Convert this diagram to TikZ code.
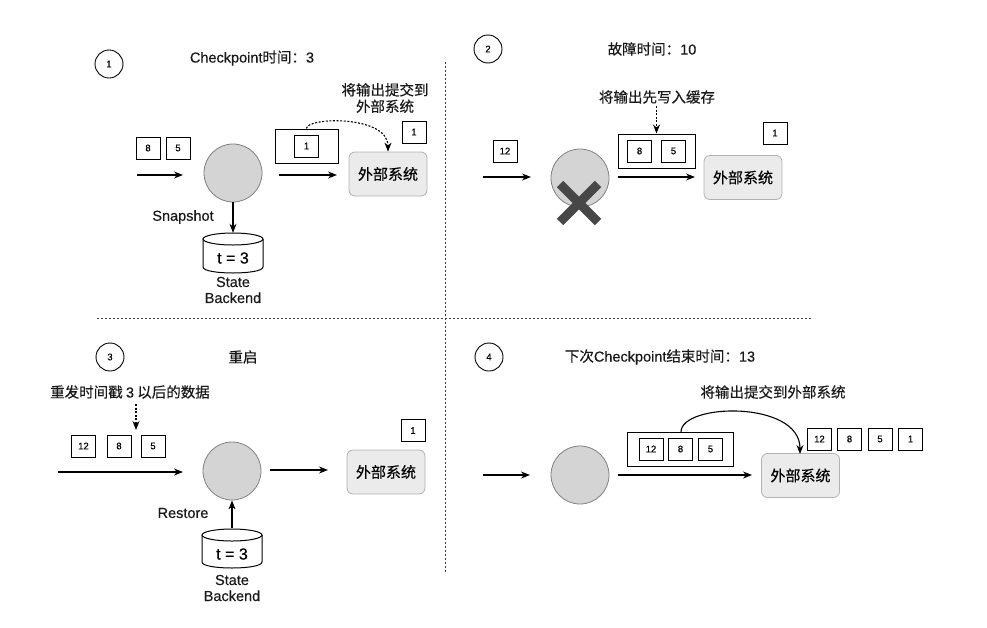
\documentclass[tikz,border=0pt]{standalone}
\usepackage{fontspec}
\setmainfont{Liberation Sans}[FakeBold=0.4]
\newfontfamily\cjk{Noto Sans CJK SC}[FakeBold=0.4]
\usetikzlibrary{arrows.meta}
\newcommand\mycyl[3]{%
  \draw[line width=1pt,fill=white] (#1-30,#2+6) -- (#1-30,#3-6) .. controls (#1-30,#3+2) and (#1+30,#3+2) .. (#1+30,#3-6) -- (#1+30,#2+6);
  \draw[line width=1pt,fill=white] (#1,#2+6) ellipse [x radius=30, y radius=6];
}
\begin{document}
\begin{tikzpicture}[x=1pt,y=-1pt,
  numbox/.style={draw, line width=1pt, fill=white, minimum width=24pt, minimum height=22pt, inner sep=0pt, font=\fontsize{9.5}{10}\selectfont},
  bufbox/.style={draw, line width=1pt, inner sep=0pt},
  opnode/.style={circle, draw=black!50, fill=black!17, line width=0.8pt, minimum size=58pt, inner sep=0pt},
  extbox/.style={draw=black!30, fill=black!8, rounded corners=6pt, line width=0.8pt, minimum width=78pt, minimum height=44pt, inner sep=0pt, font=\cjk\fontsize{15}{17}\selectfont},
  arr/.style={-{Stealth[length=9pt,width=7pt]}, line width=1.1pt},
  darr/.style={arr, dash pattern=on 2pt off 1.6pt},
  divider/.style={line width=1pt, black!75, dash pattern=on 2pt off 2pt},
  lbl/.style={inner sep=0pt, text=black!90, font=\fontsize{14.5}{16}\selectfont},
  cjklbl/.style={lbl, font=\cjk\fontsize{14.5}{16.5}\selectfont, align=center},
  numc/.style={circle, draw, line width=0.9pt, minimum size=28pt, inner sep=0pt, font=\fontsize{9.5}{10}\selectfont},
  cylnode/.style={minimum width=60pt, minimum height=40pt, inner sep=0pt, font=\fontsize{16}{18}\selectfont}
]
\useasboundingbox (0,0) rectangle (987,627);

% dividers
\coordinate (hL) at (97,318);
\coordinate (hR) at (812,318);
\coordinate (vT) at (445,62);
\coordinate (vB) at (445,573);
\draw[divider] (hL) -- (hR);
\draw[divider] (vT) -- (vB);

%%%%%%%% Panel 1
\node[numc] (n1) at (109,64) {1};
\node[lbl] (t1) at (252,58) {Checkpoint{\cjk 时间：}3};
\node[cjklbl] (note1) at (385,98) {将输出提交到\\外部系统};
\node[numbox] (p1b8) at (148,148) {8};
\node[numbox] (p1b5) at (178,148) {5};
\coordinate (p1a1s) at (137,175);
\coordinate (p1a1e) at (183,175);
\draw[arr] (p1a1s) -- (p1a1e);
\node[opnode] (c1) at (233,173) {};
\mycyl{233}{233}{273}
\node[cylnode] (cyl1) at (233,253) {};
\node[inner sep=0pt, font=\fontsize{16}{18}\selectfont] (cyl1t) at (233,258) {t = 3};
\draw[arr] (c1.south) -- (cyl1.north);
\node[lbl] (snap) at (183,217) {Snapshot};
\node[lbl, align=center] (sb1) at (233,290) {State\\Backend};
\node[bufbox, minimum width=63pt, minimum height=34pt] (buf1) at (306.5,146) {};
\node[numbox] (p1bi) at (306.5,146) {1};
\coordinate (p1a2s) at (279,175);
\coordinate (p1a2e) at (337,175);
\draw[arr] (p1a2s) -- (p1a2e);
\node[extbox] (ext1) at (388,174) {外部系统};
\node[numbox] (p1bo) at (414,132) {1};
\draw[darr] (buf1.north) .. controls (306.5,117) and (388,115) .. (ext1.north);

%%%%%%%% Panel 2
\node[numc] (n2) at (488,49) {2};
\node[lbl] (t2) at (652,49) {{\cjk 故障时间：}10};
\node[cjklbl] (note2) at (657,97) {将输出先写入缓存};
\node[bufbox, minimum width=77pt, minimum height=34pt] (buf2) at (656.5,151) {};
\coordinate (p2ds) at (656.5,106);
\draw[darr] (p2ds) -- (buf2.north);
\node[numbox] (p2b8) at (639.5,151) {8};
\node[numbox] (p2b5) at (673.5,151) {5};
\node[numbox] (p2b12) at (505,151) {12};
\coordinate (p2a1s) at (483,177);
\coordinate (p2a1e) at (531,177);
\draw[arr] (p2a1s) -- (p2a1e);
\node[opnode] (c2) at (580,178) {};
\coordinate (x1) at (560,184);
\coordinate (x2) at (598,222);
\coordinate (x3) at (598,184);
\coordinate (x4) at (560,222);
\draw[line width=9pt, black!72] (x1) -- (x2) (x3) -- (x4);
\coordinate (p2a2s) at (618,177);
\coordinate (p2a2e) at (695,177);
\draw[arr] (p2a2s) -- (p2a2e);
\node[extbox] (ext2) at (743,177.5) {外部系统};
\node[numbox] (p2bo) at (775,133) {1};

%%%%%%%% Panel 3
\node[numc] (n3) at (110,357) {3};
\node[cjklbl] (t3) at (243,357) {重启};
\node[cjklbl] (note3) at (130,392) {重发时间戳 {\fontspec{Liberation Sans}[FakeBold=0.4]3} 以后的数据};
\node[numbox] (p3b12) at (83.5,446) {12};
\node[numbox] (p3b8) at (119,446) {8};
\node[numbox] (p3b5) at (153,446) {5};
\coordinate (p3ds) at (136,404);
\coordinate (p3de) at (136,430);
\draw[darr] (p3ds) -- (p3de);
\coordinate (p3a1s) at (58,472);
\coordinate (p3a1e) at (183,472);
\draw[arr] (p3a1s) -- (p3a1e);
\node[opnode] (c3) at (232,471) {};
\mycyl{232}{529}{568}
\node[cylnode] (cyl3) at (232,548.5) {};
\node[inner sep=0pt, font=\fontsize{16}{18}\selectfont] (cyl3t) at (232,554) {t = 3};
\draw[arr] (cyl3.north) -- (c3.south);
\node[lbl] (rest) at (183,513) {Restore};
\node[lbl, align=center] (sb3) at (232,588) {State\\Backend};
\coordinate (p3a2s) at (270,470);
\coordinate (p3a2e) at (328,470);
\draw[arr] (p3a2s) -- (p3a2e);
\node[extbox] (ext3) at (386,472) {外部系统};
\node[numbox] (p3bo) at (413,430.5) {1};

%%%%%%%% Panel 4
\node[numc] (n4) at (489,357) {4};
\node[lbl] (t4) at (660,357) {{\cjk 下次}Checkpoint{\cjk 结束时间：}13};
\node[cjklbl] (note4) at (773,392) {将输出提交到外部系统};
\node[bufbox, minimum width=106pt, minimum height=34pt] (buf4) at (680,449) {};
\node[numbox] (p4b12) at (651,449) {12};
\node[numbox] (p4b8) at (680.5,449) {8};
\node[numbox] (p4b5) at (710.5,449) {5};
\coordinate (p4a1s) at (483,475);
\coordinate (p4a1e) at (530,475);
\draw[arr] (p4a1s) -- (p4a1e);
\node[opnode] (c4) at (580,475) {};
\coordinate (p4a2s) at (618,475);
\coordinate (p4a2e) at (752,475);
\draw[arr] (p4a2s) -- (p4a2e);
\node[extbox] (ext4) at (800.5,475.5) {外部系统};
\node[numbox] (p4o12) at (819.5,439) {12};
\node[numbox] (p4o8) at (849.5,439) {8};
\node[numbox] (p4o5) at (880,439) {5};
\node[numbox] (p4o1) at (910.5,439) {1};
\coordinate (p4cs) at (681,432);
\coordinate (p4ce) at (800,454);
\draw[arr] (p4cs) .. controls (681,403) and (800,400) .. (p4ce);
\end{tikzpicture}
\end{document}
